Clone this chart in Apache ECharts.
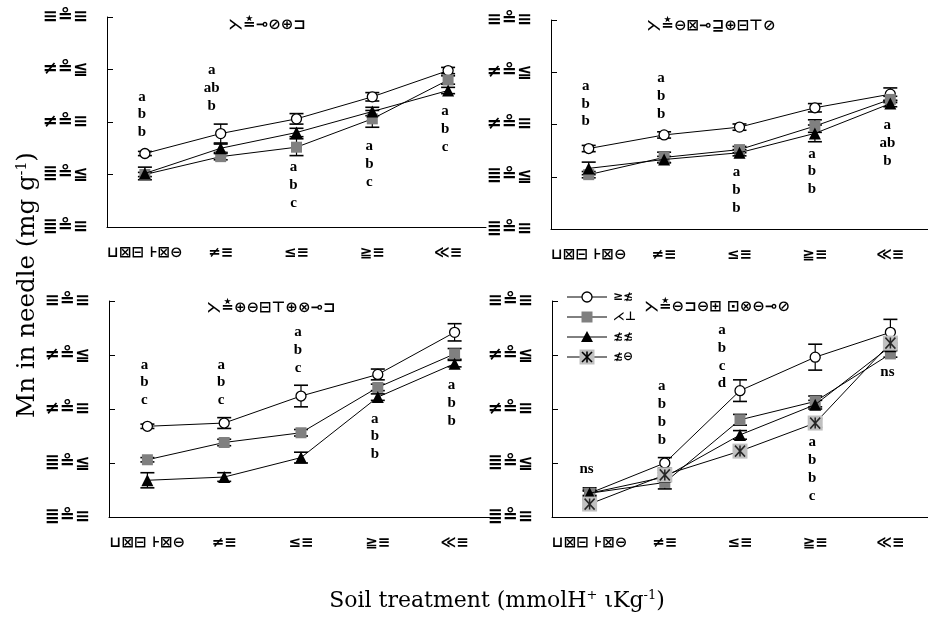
<!DOCTYPE html>
<html><head><meta charset="utf-8">
<script src="https://cdn.jsdelivr.net/npm/echarts@6/dist/echarts.min.js"></script>
<style>html,body{margin:0;padding:0;background:#fff}#c{width:928px;height:619px}</style>
</head><body><div id="c"></div>
<script>
// ---- data ----
const categories = ["⊔⊠⊟ ⊦⊠⊖", "≠≡", "≤≡", "≧≡", "≪≡"];
const yTickValues = [0, 0.5, 1, 1.5, 2];
const yTickLabels = ["≣≗≡", "≣≗≦", "≠≗≡", "≠≗≦", "≡≗≡"];
const panelTitles = ["⋋≛⊸⊘⊕⊐", "⋋≛⊖⊠⊸⊒⊕⊟⊤⊘", "⋋≛⊕⊖⊟⊤⊕⊗⊸⊐", "⋋≛⊖⊐⊖⊞ ⊡⊗⊖⊸⊘"];
const legendNames = ["≥≴", "⋌⊥", "≴≴", "≴⊖"];

const p1_circle   = [0.70, 0.89, 1.03, 1.24, 1.49];
const p1_square   = [0.50, 0.67, 0.76, 1.03, 1.40];
const p1_triangle = [0.51, 0.75, 0.90, 1.10, 1.30];
const p1_errCircle   = [0.02, 0.09, 0.05, 0.04, 0.03];
const p1_errSquare   = [0.02, 0.03, 0.08, 0.08, 0.04];
const p1_errTriangle = [0.06, 0.04, 0.04, 0.04, 0.03];

const p2_circle   = [0.77, 0.90, 0.975, 1.16, 1.29];
const p2_square   = [0.52, 0.685, 0.76, 0.985, 1.24];
const p2_triangle = [0.58, 0.665, 0.73, 0.915, 1.20];
const p2_errCircle   = [0.03, 0.03, 0.03, 0.04, 0.06];
const p2_errSquare   = [0.03, 0.05, 0.03, 0.06, 0.03];
const p2_errTriangle = [0.06, 0.03, 0.03, 0.08, 0.03];

const p3_circle   = [0.84, 0.87, 1.12, 1.32, 1.71];
const p3_square   = [0.53, 0.69, 0.78, 1.20, 1.51];
const p3_triangle = [0.34, 0.37, 0.55, 1.11, 1.42];
const p3_errCircle   = [0.02, 0.05, 0.10, 0.05, 0.08];
const p3_errSquare   = [0.02, 0.03, 0.03, 0.03, 0.05];
const p3_errTriangle = [0.07, 0.04, 0.05, 0.03, 0.03];

const p4_circle   = [0.22, 0.50, 1.17, 1.48, 1.71];
const p4_square   = [0.22, 0.32, 0.90, 1.07, 1.51];
const p4_triangle = [0.22, 0.37, 0.76, 1.04, 1.58];
const p4_cross    = [0.12, 0.39, 0.61, 0.87, 1.61];
const p4_errCircle   = [0.02, 0.05, 0.10, 0.12, 0.12];
const p4_errSquare   = [0.03, 0.06, 0.05, 0.05, 0.03];
const p4_errTriangle = [0.05, 0.04, 0.04, 0.04, 0.03];
const p4_errCross    = [0.04, 0.04, 0.04, 0.04, 0.04];

// significance letters (top letter value, list of letters, shift in category units)
const p1_letters = [["a","b","b"],["a","ab","b"],["a","b","c"],["a","b","c"],["a","b","c"]];
const p1_letterTop = [1.24, 1.49, 0.57, 0.77, 1.10];
const p1_letterShift = [0, -0.08, 0, 0, 0];
const p2_letters = [["a","b","b"],["a","b","b"],["a","b","b"],["a","b","b"],["a","ab","b"]];
const p2_letterTop = [1.37, 1.44, 0.54, 0.72, 0.99];
const p2_letterShift = [0, 0, 0, 0, 0];
const p3_letters = [["a","b","c"],["a","b","c"],["a","b","c"],["a","b","b"],["a","b","b"]];
const p3_letterTop = [1.41, 1.41, 1.71, 0.91, 1.22];
const p3_letterShift = [0, 0, 0, 0, 0];
const p4_letters = [["ns"],["a","b","b","b"],["a","b","c","d"],["a","b","b","c"],["ns"]];
const p4_letterTop = [0.44, 1.21, 1.73, 0.69, 1.34];
const p4_letterShift = [0, 0, -0.2, 0, 0];

// ---- chart ----
const grids = [
  {left:107, top:17, width:379, height:210},
  {left:551, top:20, width:380, height:209},
  {left:109, top:301, width:384, height:216},
  {left:552, top:301, width:385, height:216}
];
const axisLineStyle = {color:'#000', width:1};
const xAxes = grids.map((g,i)=>({
  type:'category', gridIndex:i, data:categories, boundaryGap:true,
  axisLine:{lineStyle:axisLineStyle},
  axisTick:{inside:true, length:6, lineStyle:axisLineStyle},
  axisLabel:{interval:0, color:'#000', fontFamily:'DejaVu Sans', fontWeight:'bold', fontSize:15, margin:19}
}));
const yAxes = grids.map((g,i)=>({
  type:'value', gridIndex:i, min:0, max:2, interval:0.5,
  splitLine:{show:false},
  axisLine:{show:true, lineStyle:axisLineStyle},
  axisTick:{show:true, inside:true, length:6, lineStyle:axisLineStyle},
  axisLabel:{color:'#000', fontFamily:'DejaVu Sans', fontWeight:'bold', fontSize:18, margin:19,
    formatter:v=>yTickLabels[yTickValues.indexOf(v)]}
}));

const styles = {
  circle:{symbol:'circle', symbolSize:10, itemStyle:{color:'#fff', borderColor:'#000', borderWidth:1.3}},
  square:{symbol:'rect', symbolSize:11, itemStyle:{color:'#808080', borderWidth:0}},
  triangle:{symbol:'triangle', symbolSize:12, itemStyle:{color:'#000', borderWidth:0}},
  cross:{symbol:'rect', symbolSize:15, itemStyle:{color:'#c0c0c0', borderWidth:0}}
};
const asteriskPath = 'path://M0,0L10,10M10,0L0,10M5,0L5,10';

function errSeries(gi, vals, errs){
  return {
    type:'custom', xAxisIndex:gi, yAxisIndex:gi, z:1, silent:true,
    data: vals.map((v,i)=>[i, v, errs[i]]),
    renderItem:(params, api)=>{
      const x = api.coord([api.value(0), api.value(1)])[0];
      const yHi = api.coord([api.value(0), api.value(1)+api.value(2)])[1];
      const yLo = api.coord([api.value(0), api.value(1)-api.value(2)])[1];
      const st = {stroke:'#000', lineWidth:1.2};
      return {type:'group', children:[
        {type:'line', shape:{x1:x,y1:yHi,x2:x,y2:yLo}, style:st},
        {type:'line', shape:{x1:x-7,y1:yHi,x2:x+7,y2:yHi}, style:{stroke:'#000', lineWidth:1.6}},
        {type:'line', shape:{x1:x-7,y1:yLo,x2:x+7,y2:yLo}, style:{stroke:'#000', lineWidth:1.6}}
      ]};
    }
  };
}
function lineSeries(gi, vals, kind, z){
  const s = styles[kind];
  return {
    type:'line', xAxisIndex:gi, yAxisIndex:gi, data:vals, z:z,
    symbol:s.symbol, symbolSize:s.symbolSize, showAllSymbol:true,
    itemStyle:s.itemStyle, lineStyle:{color:'#000', width:1}
  };
}
function letterSeries(gi, tops, letters, shifts){
  return {
    type:'custom', xAxisIndex:gi, yAxisIndex:gi, z:5, silent:true,
    data: tops.map((v,i)=>[i, v, shifts[i]]),
    renderItem:(params, api)=>{
      const p = api.coord([api.value(0), api.value(1)]);
      const p1 = api.coord([api.value(0) + 1, api.value(1)]);
      const dx = (p1[0] - p[0]) * api.value(2);
      const ls = letters[params.dataIndex];
      return {type:'group', children: ls.map((t,k)=>({
        type:'text', x:p[0]-3+dx, y:p[1]+k*17.8,
        style:{text:t, fill:'#000', font:'bold 15px "Liberation Serif"', textAlign:'center', textVerticalAlign:'middle'}
      }))};
    }
  };
}

const series = [];
const panels = [
  {c:p1_circle, s:p1_square, t:p1_triangle, ec:p1_errCircle, es:p1_errSquare, et:p1_errTriangle, L:p1_letters, LT:p1_letterTop, LS:p1_letterShift},
  {c:p2_circle, s:p2_square, t:p2_triangle, ec:p2_errCircle, es:p2_errSquare, et:p2_errTriangle, L:p2_letters, LT:p2_letterTop, LS:p2_letterShift},
  {c:p3_circle, s:p3_square, t:p3_triangle, ec:p3_errCircle, es:p3_errSquare, et:p3_errTriangle, L:p3_letters, LT:p3_letterTop, LS:p3_letterShift},
  {c:p4_circle, s:p4_square, t:p4_triangle, ec:p4_errCircle, es:p4_errSquare, et:p4_errTriangle, L:p4_letters, LT:p4_letterTop, LS:p4_letterShift}
];
panels.forEach((p,gi)=>{
  series.push(errSeries(gi, p.c, p.ec), errSeries(gi, p.s, p.es), errSeries(gi, p.t, p.et));
  if (gi===3) series.push(errSeries(gi, p4_cross, p4_errCross));
  series.push(lineSeries(gi, p.c, 'circle', 2), lineSeries(gi, p.s, 'square', 3), lineSeries(gi, p.t, 'triangle', 4));
  if (gi===3) {
    series.push(lineSeries(gi, p4_cross, 'cross', 4.5));
    series.push({type:'scatter', xAxisIndex:3, yAxisIndex:3, data:p4_cross, z:4.6, symbol:asteriskPath, symbolSize:[10,11],
      itemStyle:{color:'rgba(0,0,0,0)', borderColor:'#000', borderWidth:1.6}, silent:true});
  }
  series.push(letterSeries(gi, p.LT, p.L, p.LS));
});

// legend + titles + axis names
const titleFont = 'bold italic 15px "DejaVu Sans"';
const graphic = [
  {type:'text', x:267, y:25, style:{text:panelTitles[0], font:titleFont, fill:'#000', textAlign:'center', textVerticalAlign:'middle'}},
  {type:'text', x:711, y:26, style:{text:panelTitles[1], font:titleFont, fill:'#000', textAlign:'center', textVerticalAlign:'middle'}},
  {type:'text', x:271, y:308, style:{text:panelTitles[2], font:titleFont, fill:'#000', textAlign:'center', textVerticalAlign:'middle'}},
  {type:'text', x:717, y:307, style:{text:panelTitles[3], font:titleFont, fill:'#000', textAlign:'center', textVerticalAlign:'middle'}},
  {type:'text', x:28, y:285, rotation:Math.PI/2,
    style:{text:'{a|Mn in needle (mg g}{s|-1}{a|)}', textAlign:'center', textVerticalAlign:'middle', fill:'#000',
      rich:{a:{font:'24.5px "DejaVu Serif"', fill:'#000'}, s:{font:'14px "DejaVu Serif"', fill:'#000', padding:[0,0,11,0]}}}},
  {type:'text', x:497, y:601,
    style:{text:'{a|Soil treatment (mmolH}{s|+}{a| ιKg}{s|-1}{a|)}', textAlign:'center', textVerticalAlign:'middle', fill:'#000',
      rich:{a:{font:'22px "DejaVu Serif"', fill:'#000'}, s:{font:'13px "DejaVu Serif"', fill:'#000', padding:[0,0,11,0]}}}}
];
const legY = [297, 317, 337, 357];
legY.forEach((y,i)=>{
  graphic.push({type:'line', shape:{x1:567, y1:y, x2:607, y2:y}, style:{stroke:'#000', lineWidth:1}});
  if (i===0) graphic.push({type:'circle', shape:{cx:587, cy:y, r:5}, style:{fill:'#fff', stroke:'#000', lineWidth:1.3}});
  if (i===1) graphic.push({type:'rect', shape:{x:581.5, y:y-5.5, width:11, height:11}, style:{fill:'#808080'}});
  if (i===2) graphic.push({type:'polygon', shape:{points:[[587,y-6],[593,y+5],[581,y+5]]}, style:{fill:'#000'}});
  if (i===3) {
    graphic.push({type:'rect', shape:{x:579.5, y:y-7.5, width:15, height:15}, style:{fill:'#c0c0c0'}});
    graphic.push({type:'polyline', shape:{points:[[582,y-5],[592,y+5]]}, style:{stroke:'#000', lineWidth:1.6}});
    graphic.push({type:'polyline', shape:{points:[[592,y-5],[582,y+5]]}, style:{stroke:'#000', lineWidth:1.6}});
    graphic.push({type:'polyline', shape:{points:[[587,y-5.5],[587,y+5.5]]}, style:{stroke:'#000', lineWidth:1.6}});
  }
  graphic.push({type:'text', x:613, y:y, style:{text:legendNames[i], font:'bold 12px "DejaVu Sans"', fill:'#000', textVerticalAlign:'middle'}});
});

const chart = echarts.init(document.getElementById('c'));
chart.setOption({
  animation:false,
  backgroundColor:'#fff',
  grid:grids, xAxis:xAxes, yAxis:yAxes, series:series, graphic:graphic
});
</script></body></html>
